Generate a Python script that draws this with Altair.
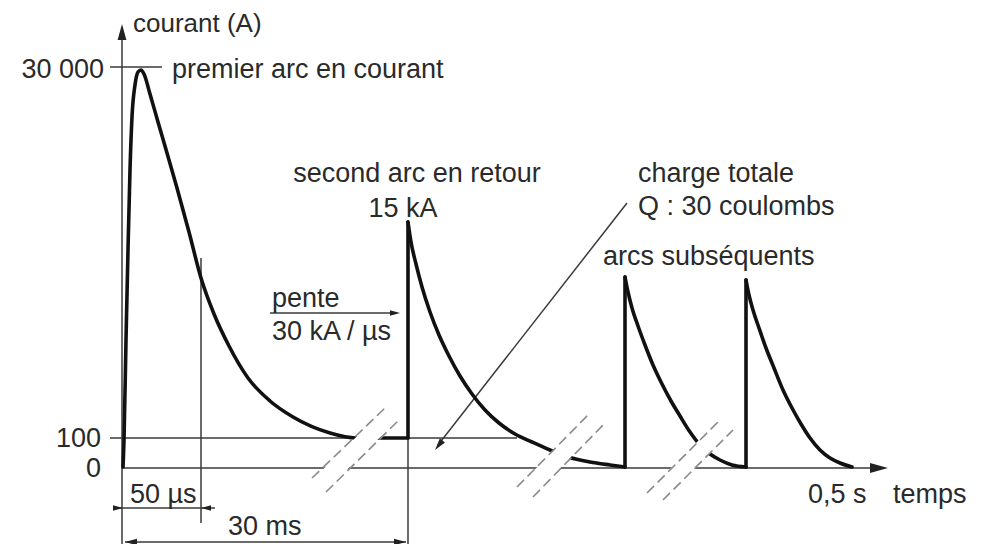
import altair as alt
import pandas as pd

# ---- diagram units: 1 unit = 1 pixel of the reference (y grows downwards) ----
# current curve, split in smooth pieces (seg id) ; vertical fronts are drawn apart
curve_x = [123, 124, 126, 128, 130, 132, 135, 138, 141, 144, 150, 158, 167, 177, 189, 201,
           214, 229, 248, 270, 293, 330, 356, 380, 408,
           408, 411, 416, 422, 430, 439, 449, 460, 472, 485, 499, 515, 532, 550, 568, 590, 610, 625,
           625, 628, 632, 638, 645, 653, 662, 671, 680, 690, 700, 710, 720, 732, 746,
           746, 749, 753, 759, 766, 774, 783, 792, 801, 810, 820, 830, 840, 852]
curve_y = [467, 440, 340, 250, 170, 117, 85, 72, 70, 74, 94, 122, 153, 188, 232, 278,
           314, 346, 378, 401, 417, 433, 438, 438, 438,
           222, 242, 264, 287, 312, 335, 356, 376, 394, 410, 423, 434, 442, 450, 457, 462, 465, 467,
           277, 292, 308, 326, 345, 365, 384, 401, 416, 432, 445, 454, 460, 465, 467,
           280, 295, 310, 328, 348, 368, 390, 408, 424, 438, 450, 458, 463, 467]
curve_seg = [0] * 25 + [1] * 18 + [2] * 15 + [3] * 14

# steep fronts of the return strokes
front_x = [408, 625, 746]
front_y1 = [438, 467, 467]
front_y2 = [222, 277, 280]

# thin construction lines: axes, levels, dimension lines, leader arrows
seg_x1 = [122, 122, 110, 110, 201, 408, 113, 125, 270, 627]
seg_y1 = [548, 468, 438, 67, 258, 225, 508, 542, 313, 203]
seg_x2 = [122, 878, 517, 162, 201, 408, 215, 406, 396, 438]
seg_y2 = [30, 468, 438, 67, 523, 552, 508, 542, 313, 445]

# axis-break symbols (white band + two dashed lines)
band_x1 = [319, 525, 655]
band_y1 = [485, 492, 496]
band_x2 = [392, 597, 725]
band_y2 = [414, 418, 426]
dash_x1 = [312, 326, 517, 533, 647, 663]
dash_y1 = [478, 492, 487, 497, 493, 500]
dash_x2 = [385, 399, 590, 605, 718, 733]
dash_y2 = [408, 420, 413, 423, 422, 430]

# arrow heads
arrow_x = [122, 879, 395, 438.7, 118, 206, 131, 400]
arrow_y = [32, 468, 313, 445.3, 508, 508, 542, 542]
arrow_angle = [0, 90, 90, 218, 90, 270, 270, 90]
arrow_size = [256, 324, 100, 144, 100, 100, 144, 144]

# labels
label_text = ["courant (A)", "premier arc en courant", "charge totale", "Q : 30 coulombs",
              "arcs subséquents", "pente", "30 kA / µs", "50 µs", "30 ms", "0,5 s", "temps",
              "30 000", "100", "0",
              "second arc en retour", "15 kA"]
label_x = [133, 172, 638, 638, 603, 272, 272, 130, 228, 808, 893,
           104, 101, 101,
           417, 403]
label_y = [32, 78, 182, 215, 265, 307, 340, 503, 535, 503, 503,
           78, 447, 477,
           182, 217]
label_size = [26] + [27] * 15
label_align = ["left"] * 11 + ["right"] * 3 + ["center"] * 2

curve = pd.DataFrame({"x": curve_x, "y": curve_y, "seg": curve_seg,
                      "o": range(len(curve_x))})
fronts = pd.DataFrame({"x": front_x, "y": front_y1, "y2": front_y2})
segs = pd.DataFrame({"x": seg_x1, "y": seg_y1, "x2": seg_x2, "y2": seg_y2})
bands = pd.DataFrame({"x": band_x1, "y": band_y1, "x2": band_x2, "y2": band_y2})
dashes = pd.DataFrame({"x": dash_x1, "y": dash_y1, "x2": dash_x2, "y2": dash_y2})
arrows = pd.DataFrame({"x": arrow_x, "y": arrow_y, "a": arrow_angle, "s": arrow_size})
labels = pd.DataFrame({"x": label_x, "y": label_y, "t": label_text, "al": label_align,
                       "fs": label_size})

xs = alt.Scale(domain=[8, 973], zero=False, nice=False)
ys = alt.Scale(domain=[544, 8], zero=False, nice=False)
X = alt.X("x:Q", scale=xs, axis=None)
Y = alt.Y("y:Q", scale=ys, axis=None)

INK = "#2a2a2a"
CURVE = "#111111"

seg_layer = alt.Chart(segs).mark_rule(color="#3a3a3a", strokeWidth=1.5).encode(
    x=X, y=Y, x2="x2:Q", y2="y2:Q")

curve_layer = alt.Chart(curve).mark_line(color=CURVE, strokeWidth=3.6, strokeJoin="round",
                                          strokeCap="round", interpolate="monotone").encode(
    x=X, y=Y, detail="seg:N", order="o:Q")

front_layer = alt.Chart(fronts).mark_rule(color=CURVE, strokeWidth=3.6,
                                          strokeCap="round").encode(
    x=X, y=Y, y2="y2:Q")

band_layer = alt.Chart(bands).mark_rule(color="white", strokeWidth=17).encode(
    x=X, y=Y, x2="x2:Q", y2="y2:Q")

dash_layer = alt.Chart(dashes).mark_rule(color="#8a8a8a", strokeWidth=1.6,
                                         strokeDash=[10, 5]).encode(
    x=X, y=Y, x2="x2:Q", y2="y2:Q")

arrow_layer = alt.Chart(arrows).mark_point(shape="M0,-1L-0.55,1L0.55,1Z", filled=True,
                                           color="#222222", opacity=1).encode(
    x=X, y=Y,
    angle=alt.Angle("a:Q", scale=None),
    size=alt.Size("s:Q", scale=None, legend=None))


def text_layer(al):
    return alt.Chart(labels).transform_filter(alt.datum.al == al).mark_text(
        align=al, baseline="alphabetic", font="Liberation Sans",
        color=INK).encode(x=X, y=Y, text="t:N",
                          size=alt.Size("fs:Q", scale=None, legend=None))


chart = alt.layer(
    seg_layer, curve_layer, front_layer, band_layer, dash_layer, arrow_layer,
    text_layer("left"), text_layer("right"), text_layer("center"),
).properties(width=965, height=536, padding=0, autosize="none",
             background="white").configure_view(stroke=None)

chart.save("out.html", embed_options={"renderer": "svg", "actions": False})
